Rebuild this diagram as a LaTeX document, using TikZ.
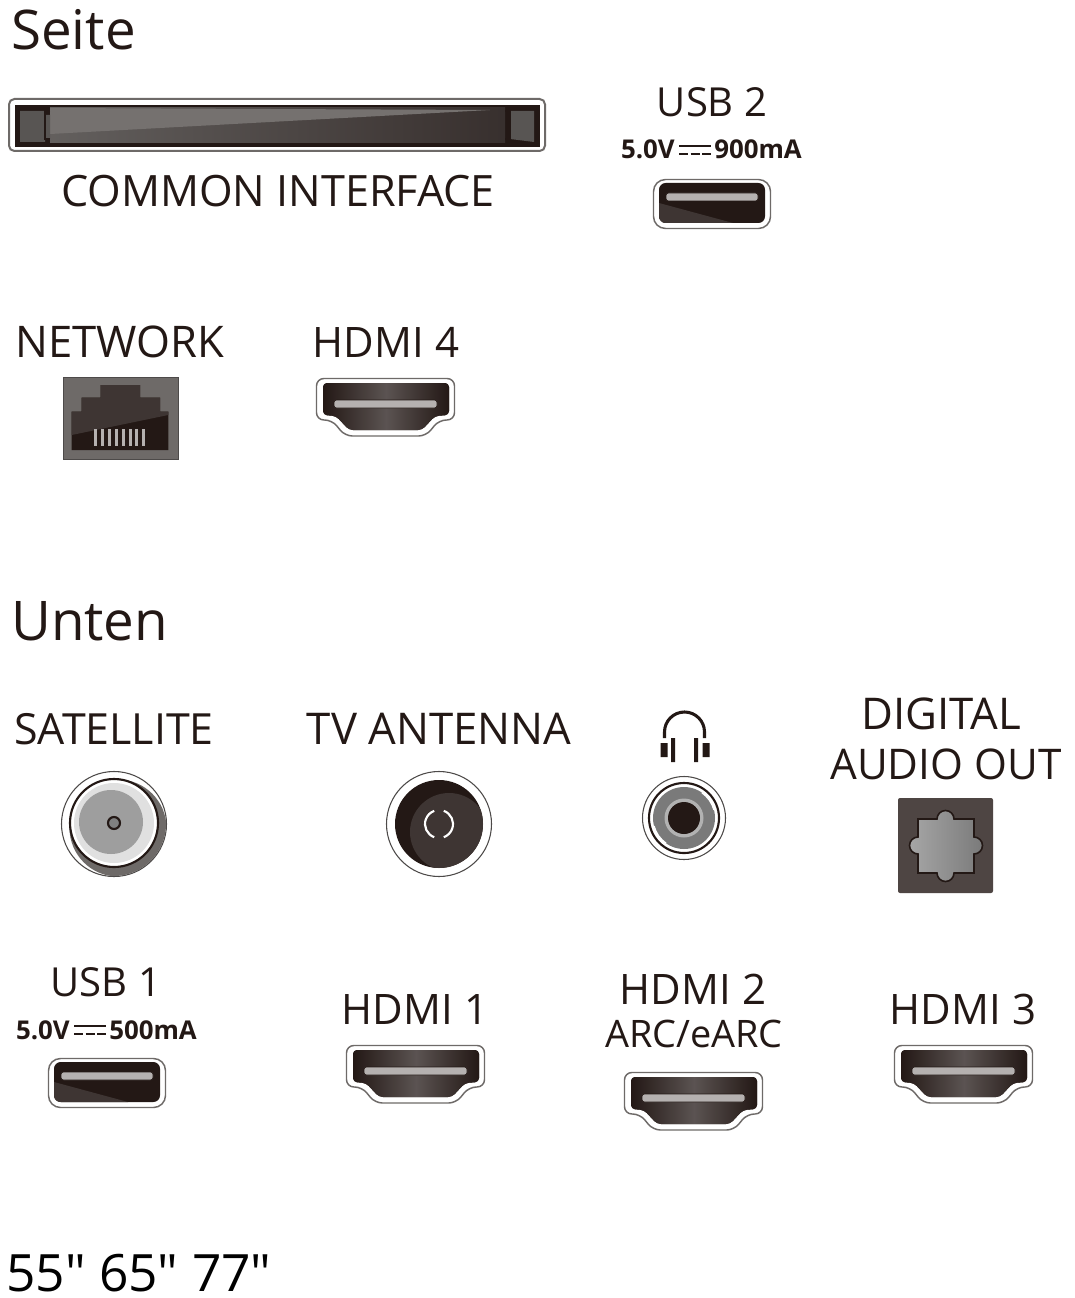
\documentclass[tikz,border=0pt]{standalone}
\usepackage{fontspec}
\setmainfont{Open Sans}
\newfontfamily\sizefont{Open Sans}
\usetikzlibrary{calc}
\definecolor{ink}{HTML}{231815}
\definecolor{dk}{HTML}{3E3533}
\definecolor{pinc}{HTML}{B5B1B0}
\definecolor{edgec}{HTML}{6E6A68}
\tikzset{
  x=0.75pt,y=-0.75pt,
  lbl/.style={text=ink,inner sep=0pt,font=\fontsize{#1}{37.5pt}\selectfont,align=center},
  lbl/.default=31.5pt,
  headtxt/.style={text=ink,inner sep=0pt,anchor=base west,font=\fontsize{41pt}{50pt}\selectfont},
  smalltxt/.style={text=ink,inner sep=0pt,anchor=base,font=\fontsize{19.4pt}{22pt}\selectfont\bfseries},
  hdmiport/.pic={
    \draw[edgec,line width=1.1pt,fill=white,rounded corners=5.5pt]
      (70,0.5)--(138.5,0.5)--(138.5,42)--(123,42)--(110,58)--(29,58)--(16,42)--(0.5,42)--(0.5,0.5)--cycle;
    \fill[ink,rounded corners=3pt] (70,5)--(133,5)--(133,37)--(119,38)--(106,52)--(33,52)--(20,38)--(7,37)--(7,5)--cycle;
    \begin{scope}
      \clip[rounded corners=3pt] (70,5)--(133,5)--(133,37)--(119,38)--(106,52)--(33,52)--(20,38)--(7,37)--(7,5)--cycle;
      \shade[left color=ink,right color=ink,middle color=dk!85!white] (7,5) rectangle (133,52);
    \end{scope}
    \fill[pinc,rounded corners=2pt,draw=ink,line width=0.4pt] (18,22) rectangle (121,30);
  },
  usbport/.pic={
    \draw[edgec,line width=1.1pt,fill=white,rounded corners=9pt] (0.5,0.5) rectangle (117.5,49.5);
    \fill[ink,rounded corners=5pt] (6,4) rectangle (112,44);
    \begin{scope}
      \clip[rounded corners=5pt] (6,4) rectangle (112,44);
      \fill[dk] (6,44)--(6,24)--(80,44)--cycle;
    \end{scope}
    \fill[pinc,rounded corners=2pt,draw=ink,line width=0.4pt] (13,14) rectangle (105,22);
  },
  dcsign/.pic={
    \draw[ink,line width=1.7pt] (0,-4)--(32,-4);
    \draw[ink,line width=1.7pt] (0,4)--(9,4) (11.5,4)--(20.5,4) (23,4)--(32,4);
  }
}
\begin{document}
\begin{tikzpicture}
\useasboundingbox (0,0) rectangle (1074,1298);
\fill[white] (0,0) rectangle (1074,1298);
% headings
\node[headtxt] (seite) at (11,50) {Seite};
\node[headtxt] (unten) at (11,640) {Unten};
\node[headtxt,font=\sizefont\fontsize{38.6pt}{44pt}\selectfont,text=black,text depth=0pt] (sizes) at (6,1291) {55" 65" 77"};
% common interface
\draw[edgec,line width=1.5pt,fill=white,rounded corners=4pt] (9,99) rectangle (545,151);
\fill[ink] (15,105) rectangle (540,147);
\shade[left color=edgec!90!black,right color=dk!90!black] (50,108) rectangle (505,143);
\fill[edgec!95!white] (50,108)--(490,110)--(50,134)--cycle;
\fill[edgec!80!black] (20,111)--(45,111)--(45,115)--(50,115)--(50,139)--(45,139)--(45,142)--(20,142)--cycle;
\draw[ink,line width=1pt] (50,111)--(45,111)--(45,139)--(50,139);
\fill[edgec!80!black] (534,111)--(510,111)--(510,139)--(534,142)--cycle;
\draw[ink,line width=1pt] (505,111)--(510,111)--(510,139)--(505,139);
\node[lbl=32.4pt] (ci) at (278,191) {COMMON INTERFACE};
% USB 2
\node[lbl=30pt] (usb2) at (712,102) {USB 2};
\node[smalltxt,anchor=base east] (v2) at (675,159) {5.0V};
\pic at (679,150) {dcsign};
\node[smalltxt,anchor=base west] (a2) at (714,159) {900mA};
\pic at (653,179) {usbport};
% network, HDMI 4
\node[lbl=32.7pt] (net) at (120,342) {NETWORK};
\fill[edgec] (63.5,377) rectangle (178,459);
\draw[edgec!70!black] (63.5,377) rectangle (178,459);
\fill[ink] (71.7,450)--(71.7,411.7)--(81.7,411.7)--(81.7,397.7)--(100.7,397.7)--(100.7,385)--(140,385)--(140,397.7)--(160,397.7)--(160,411.7)--(168.3,411.7)--(168.3,450)--cycle;
\fill[dk] (71.7,435)--(71.7,411.7)--(81.7,411.7)--(81.7,397.7)--(100.7,397.7)--(100.7,385)--(140,385)--(140,397.7)--(160,397.7)--(160,411.7)--(168.3,411.7)--(168.3,415)--cycle;
\foreach \i in {0,...,7} \fill[pinc] ({94.3+\i*6.85},428.5) rectangle ++(3,17);
\node[lbl] (h4) at (386,342) {HDMI 4};
\pic at (316,378) {hdmiport};
% satellite
\node[lbl=32.2pt] (sat) at (114,729) {SATELLITE};
\draw[edgec!70!black,line width=0.8pt,fill=white] (114,824) circle (52.5);
\begin{scope}
 \clip (114,824) circle (52);
 \fill[edgec] (118,828) circle (48.5);
\end{scope}
\fill[white] (114,823) circle (44);
\fill[black!12] (114,823) circle (40);
\fill[black!38] (111,822) circle (32);
\draw[ink,line width=1.6pt] (114,823) circle (44);
\draw[ink,line width=1.6pt,fill=black!50] (114,823) circle (6);
% antenna
\node[lbl=32.8pt] (ant) at (439,729) {TV ANTENNA};
\draw[edgec!70!black,line width=0.8pt,fill=white] (439,824) circle (52.5);
\fill[ink] (439,824) circle (44);
\begin{scope}
 \clip (439,824) circle (44);
 \fill[dk] (449,832) circle (39);
\end{scope}
\draw[white,line width=1.6pt] (439,824) ++(-70:14) arc[start angle=-70,end angle=70,radius=14];
\draw[white,line width=1.6pt] (439,824) ++(110:14) arc[start angle=110,end angle=250,radius=14];
% headphone
\draw[ink,line width=2.3pt] (664.5,738)--(664.5,732) arc[start angle=180,end angle=360,radius=20]--(704.5,738);
\fill[ink] (660.5,743) rectangle (667.5,757) (702.5,743) rectangle (709.5,757);
\fill[ink] (671,738) rectangle (675,762) (694,738) rectangle (698,762);
\draw[edgec!70!black,line width=0.8pt,fill=white] (684,818) circle (41.5);
\draw[ink,line width=1.6pt] (684,818) circle (35);
\fill[black!52] (684,818) circle (31);
\draw[white,line width=1pt] (684,818) ++(-55:31) arc[start angle=-55,end angle=-15,radius=31];
\draw[white,line width=1pt] (684,818) ++(125:31) arc[start angle=125,end angle=165,radius=31];
\fill[black!30] (684,818) circle (19.5);
\fill[ink] (684,818) circle (16);
% digital audio out
\node[lbl=32.8pt] (dig) at (941,714) {DIGITAL};
\node[lbl=31.7pt] (aud) at (946,764) {AUDIO OUT};
\fill[dk!92!white,rounded corners=1.5pt] (898,798) rectangle (993,893);
\shade[left color=black!35,right color=black!52,draw=ink,line width=1.2pt]
  (918,819)--(937,819) arc[start angle=180,end angle=360,radius=8.5]--(974,819)--(974,837) arc[start angle=270,end angle=450,radius=8.5]--(974,873)--(954,873) arc[start angle=0,end angle=180,radius=8.5]--(918,873)--(918,854) arc[start angle=90,end angle=270,radius=8.5]--cycle;
% USB 1
\node[lbl=30pt] (usb1) at (106,982) {USB 1};
\node[smalltxt,anchor=base east] (v1) at (70,1039) {5.0V};
\pic at (74,1030) {dcsign};
\node[smalltxt,anchor=base west] (a1) at (109,1039) {500mA};
\pic at (48,1058) {usbport};
% HDMI row
\node[lbl] (h1) at (415,1009) {HDMI 1};
\pic at (346,1045) {hdmiport};
\node[lbl] (h2) at (693,989) {HDMI 2};
\node[lbl=28.4pt] (arc) at (694,1034) {ARC/eARC};
\pic at (624,1072) {hdmiport};
\node[lbl] (h3) at (963,1009) {HDMI 3};
\pic at (894,1045) {hdmiport};
\end{tikzpicture}
\end{document}
